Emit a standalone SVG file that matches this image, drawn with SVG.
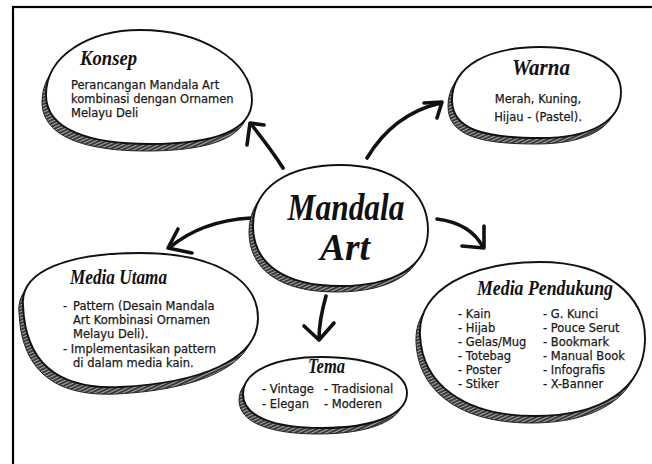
<svg xmlns="http://www.w3.org/2000/svg" width="652" height="464" viewBox="0 0 652 464">
<style>
.bg{fill:#ffffff}
.frame{fill:none;stroke:#000;stroke-width:2.2}
.blob{fill:#ffffff;stroke:#111;stroke-width:1.9}
.shadow{fill:url(#hatch);stroke:#222;stroke-width:1}
.title{font-family:"Liberation Serif","DejaVu Serif",serif;font-style:italic;font-weight:bold;fill:#111}
.body{font-family:"DejaVu Sans","Noto Sans",sans-serif;font-size:11.5px;fill:#1a1a1a;stroke:#1a1a1a;stroke-width:0.25}
.arrow{fill:none;stroke:#111;stroke-width:3.6;stroke-linecap:round;stroke-linejoin:round}
</style>
<defs>
<pattern id="hatch" patternUnits="userSpaceOnUse" width="3" height="3" patternTransform="rotate(65)">
<rect width="3" height="3" fill="#3a3a3a"/>
<line x1="1.5" y1="0" x2="1.5" y2="3" stroke="#d8d8d8" stroke-width="0.7"/>
</pattern>
</defs>
<rect class="bg" x="0" y="0" width="652" height="464"/>
<rect class="frame" x="13" y="7" width="700" height="500"/>

<g id="connectors">
<path class="arrow" d="M283,168 C273,152 262,138 251,124"/>
<path class="arrow" d="M247,145 L250,123 L264,125"/>
<path class="arrow" d="M367,158 C385,128 410,110 441,103"/>
<path class="arrow" d="M424,103 L442,102 L437,118"/>
<path class="arrow" d="M251,218 C215,220 188,232 169,248"/>
<path class="arrow" d="M178,229 L168,248 L192,253"/>
<path class="arrow" d="M437,219 C460,222 475,232 483,247"/>
<path class="arrow" d="M484,226 L484,248 L462,246"/>
<path class="arrow" d="M326,296 C322,310 319,325 319,339"/>
<path class="arrow" d="M304,326 L319,340 L334,323"/>
</g>

<g id="konsep">
<path class="shadow" transform="translate(-4,7)" d="M46,95 C46,55 90,30 140,30 C200,30 252,60 252,100 C252,130 215,144 150,144 C90,144 46,130 46,95 Z"/>
<path class="blob" d="M46,95 C46,55 90,30 140,30 C200,30 252,60 252,100 C252,130 215,144 150,144 C90,144 46,130 46,95 Z"/>
<text class="title" x="80" y="65" font-size="21" textLength="57" lengthAdjust="spacingAndGlyphs">Konsep</text>
<text class="body" x="71" y="89">Perancangan Mandala Art</text>
<text class="body" x="71" y="103">kombinasi dengan Ornamen</text>
<text class="body" x="71" y="117">Melayu Deli</text>
</g>

<g id="warna">
<path class="shadow" transform="translate(-4,6)" d="M452,100 C452,65 490,47 540,47 C590,47 621,65 621,92 C621,122 590,138 540,138 C485,138 452,130 452,100 Z"/>
<path class="blob" d="M452,100 C452,65 490,47 540,47 C590,47 621,65 621,92 C621,122 590,138 540,138 C485,138 452,130 452,100 Z"/>
<text class="title" x="541" y="75" font-size="23" text-anchor="middle" textLength="58" lengthAdjust="spacingAndGlyphs">Warna</text>
<text class="body" x="538" y="103" font-size="12" text-anchor="middle">Merah, Kuning,</text>
<text class="body" x="538" y="121" font-size="12" text-anchor="middle">Hijau - (Pastel).</text>
</g>

<g id="mandala-art">
<path class="shadow" transform="translate(-4,6)" d="M253,226 C253,186 290,165 340,165 C395,165 428,192 428,230 C428,266 395,286 340,286 C285,286 253,264 253,226 Z"/>
<path class="blob" d="M253,226 C253,186 290,165 340,165 C395,165 428,192 428,230 C428,266 395,286 340,286 C285,286 253,264 253,226 Z"/>
<text class="title" x="346" y="220" font-size="38" text-anchor="middle" textLength="117" lengthAdjust="spacingAndGlyphs">Mandala</text>
<text class="title" x="345" y="260" font-size="38" text-anchor="middle" textLength="50" lengthAdjust="spacingAndGlyphs">Art</text>
</g>

<g id="media-utama">
<path class="shadow" transform="translate(-4,7)" d="M23,305 C20,270 70,253 140,253 C215,253 258,280 258,318 C258,360 200,383 120,387 C55,390 25,360 23,305 Z"/>
<path class="blob" d="M23,305 C20,270 70,253 140,253 C215,253 258,280 258,318 C258,360 200,383 120,387 C55,390 25,360 23,305 Z"/>
<text class="title" x="70" y="284" font-size="20" textLength="97" lengthAdjust="spacingAndGlyphs">Media Utama</text>
<text class="body" x="63" y="310">-<tspan x="73">Pattern (Desain Mandala</tspan></text>
<text class="body" x="73" y="324">Art Kombinasi Ornamen</text>
<text class="body" x="73" y="338">Melayu Deli).</text>
<text class="body" x="63" y="353">- Implementasikan pattern</text>
<text class="body" x="73" y="367">di dalam media kain.</text>
</g>

<g id="media-pendukung">
<path class="shadow" transform="translate(-4,7)" d="M420,335 C418,290 470,262 540,262 C605,262 646,295 645,340 C644,390 600,416 535,416 C465,416 422,385 420,335 Z"/>
<path class="blob" d="M420,335 C418,290 470,262 540,262 C605,262 646,295 645,340 C644,390 600,416 535,416 C465,416 422,385 420,335 Z"/>
<text class="title" x="477" y="295" font-size="20" textLength="136" lengthAdjust="spacingAndGlyphs">Media Pendukung</text>
<text class="body" x="458" y="318">- Kain</text>
<text class="body" x="458" y="332">- Hijab</text>
<text class="body" x="458" y="346">- Gelas/Mug</text>
<text class="body" x="458" y="360">- Totebag</text>
<text class="body" x="458" y="374">- Poster</text>
<text class="body" x="458" y="388">- Stiker</text>
<text class="body" x="543" y="318">- G. Kunci</text>
<text class="body" x="543" y="332">- Pouce Serut</text>
<text class="body" x="543" y="346">- Bookmark</text>
<text class="body" x="543" y="360">- Manual Book</text>
<text class="body" x="543" y="374">- Infografis</text>
<text class="body" x="543" y="388">- X-Banner</text>
</g>

<g id="tema">
<path class="shadow" transform="translate(-4,6)" d="M243,394 C243,371 275,357 322,357 C372,357 407,372 407,393 C407,415 372,428 322,428 C275,428 243,417 243,394 Z"/>
<path class="blob" d="M243,394 C243,371 275,357 322,357 C372,357 407,372 407,393 C407,415 372,428 322,428 C275,428 243,417 243,394 Z"/>
<text class="title" x="308" y="373" font-size="20" textLength="37" lengthAdjust="spacingAndGlyphs">Tema</text>
<text class="body" x="262" y="393">- Vintage</text>
<text class="body" x="324" y="393">- Tradisional</text>
<text class="body" x="262" y="408">- Elegan</text>
<text class="body" x="324" y="408">- Moderen</text>
</g>
</svg>
